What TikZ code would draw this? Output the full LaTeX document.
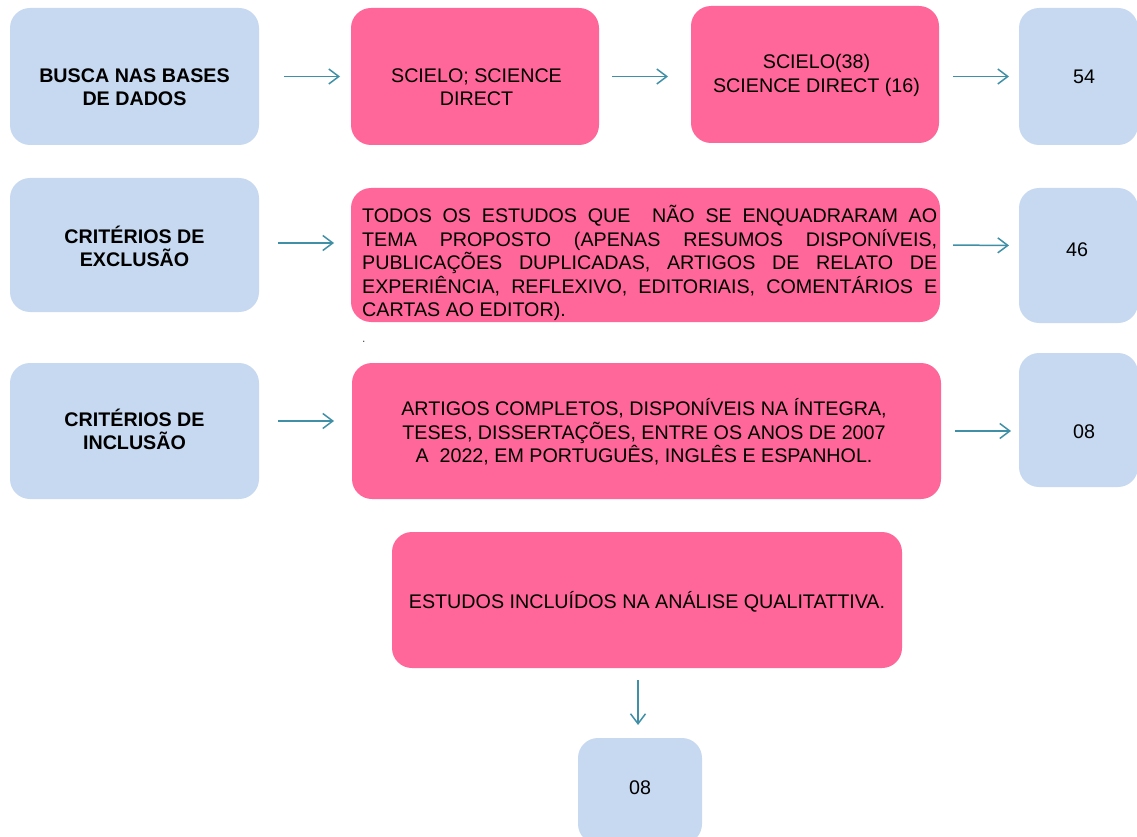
\documentclass[tikz,border=0pt]{standalone}
\usepackage{fontspec}
\setmainfont{Liberation Sans}
\usetikzlibrary{arrows.meta}
\definecolor{boxblue}{HTML}{C6D9F0}
\definecolor{boxpink}{HTML}{FF6699}
\definecolor{arrowteal}{HTML}{3F8FA6}
\tikzset{
  box/.style={rounded corners=20pt, inner sep=0pt, outer sep=0pt, draw=none},
  bluebox/.style={box, fill=boxblue},
  pinkbox/.style={box, fill=boxpink},
  lbl/.style={inner sep=0pt, font=\fontsize{19.7}{23.5}\selectfont, align=center},
  blbl/.style={inner sep=0pt, font=\fontsize{19.7}{23.5}\selectfont\bfseries, align=center},
  arr/.style={draw=arrowteal, line width=1.5pt, -{Straight Barb[length=10pt,width=15pt]}},
}
\begin{document}
\begin{tikzpicture}[x=1pt,y=-1pt]
\useasboundingbox (0,0) rectangle (1137,837);

% row 1
\node[bluebox, minimum width=249, minimum height=137] (A1) at (134.5,76.5) {};
\node[pinkbox, minimum width=248, minimum height=137] (A2) at (475,76.5) {};
\node[pinkbox, minimum width=248, minimum height=137] (A3) at (815,74.5) {};
\node[bluebox, minimum width=119, minimum height=137] (A4) at (1078.5,76.5) {};
\node[blbl] (A1t) at (134.5,87) {BUSCA NAS BASES\\DE DADOS};
\node[lbl] (A2t) at (476.5,87) {SCIELO; SCIENCE\\DIRECT};
\node[lbl] (A3t) at (816.5,75.5) {SCIELO(38)\\SCIENCE DIRECT (16)};
\node[lbl] (A4t) at (1084,77) {54};

% row 2
\node[bluebox, minimum width=249, minimum height=134] (B1) at (134.5,245) {};
\node[pinkbox, minimum width=589, minimum height=134] (B2) at (645.5,255) {};
\node[bluebox, minimum width=119, minimum height=135] (B4) at (1078.5,255.5) {};
\node[blbl] (B1t) at (134.5,246.5) {CRITÉRIOS DE\\EXCLUSÃO};
\node[lbl, align=left, anchor=west] (B2t) at (362,263) {%
  \makebox[575pt][s]{TODOS OS ESTUDOS QUE\ \ NÃO SE ENQUADRARAM AO}\\
  \makebox[575pt][s]{TEMA PROPOSTO (APENAS RESUMOS DISPONÍVEIS,}\\
  \makebox[575pt][s]{PUBLICAÇÕES DUPLICADAS, ARTIGOS DE RELATO DE}\\
  \makebox[575pt][s]{EXPERIÊNCIA, REFLEXIVO, EDITORIAIS, COMENTÁRIOS E}\\
  CARTAS AO EDITOR).};
\node[lbl] (B4t) at (1077,250) {46};
\node[anchor=base west, inner sep=0pt, font=\fontsize{12}{12}\selectfont, text=black!70] (dot) at (362,342) {.};

% row 3
\node[bluebox, minimum width=249, minimum height=136] (C1) at (134.5,431) {};
\node[pinkbox, minimum width=589, minimum height=136] (C2) at (646.5,431) {};
\node[bluebox, minimum width=119, minimum height=134] (C4) at (1078.5,420) {};
\node[blbl] (C1t) at (134.5,429.5) {CRITÉRIOS DE\\INCLUSÃO};
\node[lbl] (C2t) at (644,432) {ARTIGOS COMPLETOS, DISPONÍVEIS NA ÍNTEGRA,\\TESES, DISSERTAÇÕES, ENTRE OS ANOS DE 2007\\A\ \ 2022, EM PORTUGUÊS, INGLÊS E ESPANHOL.};
\node[lbl] (C4t) at (1084,432) {08};

% row 4
\node[pinkbox, minimum width=510, minimum height=136] (D) at (647,600) {};
\node[lbl] (Dt) at (647,602) {ESTUDOS INCLUÍDOS NA ANÁLISE QUALITATTIVA.};
\node[bluebox, minimum width=124, minimum height=106] (E) at (640,791) {};
\node[lbl] (Et) at (640,788) {08};

% arrows
\draw[arr, shorten <=25pt, shorten >=11pt] (A1.east) -- (A2.west);
\draw[arr, shorten <=13pt, shorten >=23pt] (A2.east) -- (A2.east -| A3.west);
\draw[arr, shorten <=14pt, shorten >=10pt] (A4.west -| A3.east) -- (A4.west);
\draw[arr, shorten <=19pt, shorten >=17pt] ([yshift=2pt]B1.east) -- ([yshift=2pt]B1.east -| B2.west);
\draw[arr, shorten <=13pt, shorten >=10pt] ([yshift=10pt]B2.east) -- ([yshift=10pt]B4.west);
\draw[arr, shorten <=19pt, shorten >=18pt] ([yshift=10pt]C1.east) -- ([yshift=10pt]C2.west);
\draw[arr, shorten <=14pt, shorten >=8pt] (C2.east) -- (C2.east -| C4.west);
\draw[arr, shorten <=12pt, shorten >=13pt] ([xshift=-2pt]E.north |- D.south) -- ([xshift=-2pt]E.north);
\end{tikzpicture}
\end{document}
